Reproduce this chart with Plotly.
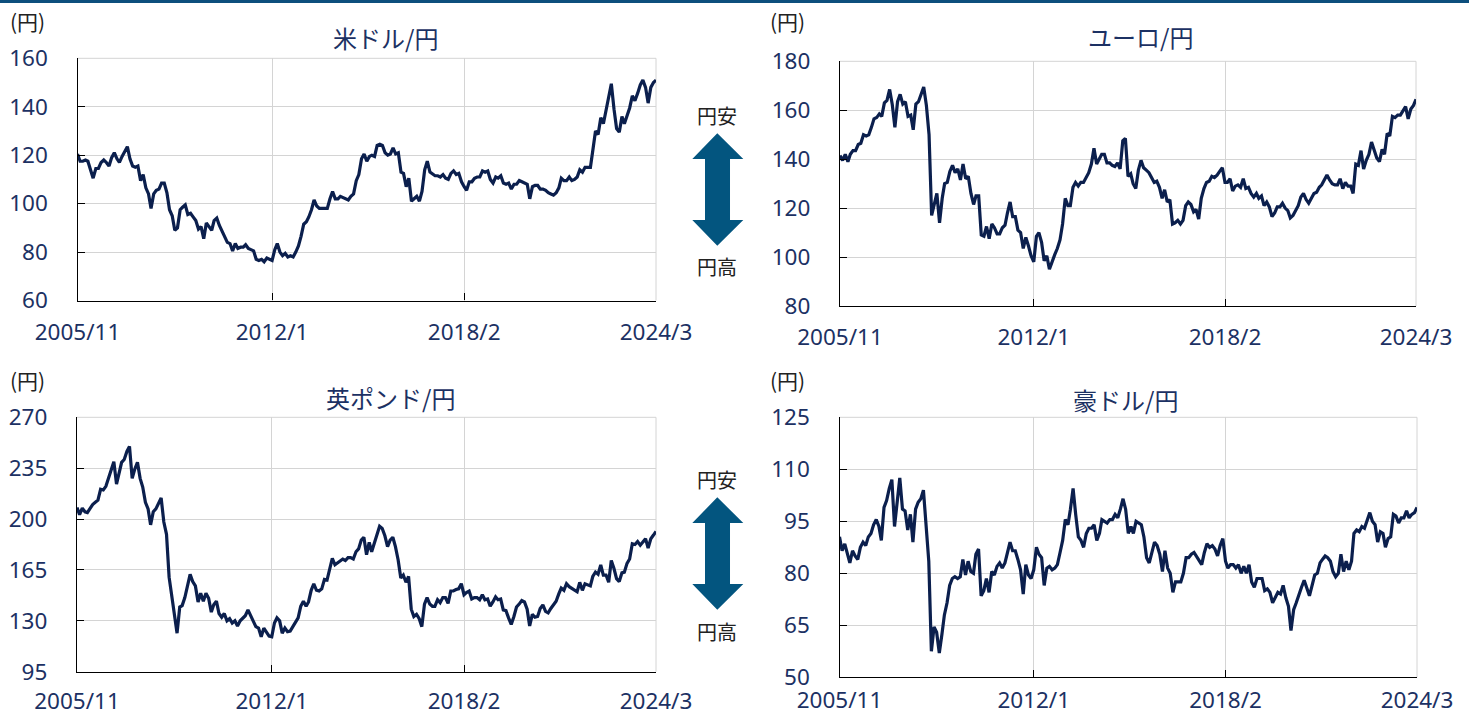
import plotly.graph_objects as go
import pandas as pd

# ---------------- data (monthly readings, 2005/11 - 2024/3) ----------------
usd_jpy = [
    120.5, 117.5,
    117.5, 118.0, 117.5, 114.0, 110.5, 114.5, 114.5, 117.0, 118.0, 117.0, 115.5, 119.0,
    121.0, 118.5, 117.0, 119.5, 121.5, 123.5, 118.5, 115.5, 115.0, 115.5, 109.5, 112.0,
    106.5, 104.0, 98.0, 104.0, 105.5, 106.0, 108.5, 108.5, 104.5, 97.5, 95.0, 89.0,
    90.0, 97.5, 98.5, 99.5, 95.5, 96.0, 94.5, 93.0, 89.5, 90.5, 85.5, 92.0,
    90.5, 89.0, 93.0, 94.0, 91.0, 88.5, 86.5, 84.0, 83.5, 80.5, 83.5, 81.5,
    82.0, 82.0, 83.0, 81.5, 81.0, 80.5, 77.0, 76.5, 77.0, 76.0, 77.5, 77.0,
    76.5, 81.0, 83.5, 80.0, 78.5, 79.5, 78.0, 78.5, 78.0, 80.0, 82.5, 86.5,
    91.5, 92.5, 94.5, 97.5, 101.5, 99.0, 98.0, 98.0, 98.0, 98.0, 102.0, 105.0,
    102.0, 102.0, 103.0, 102.5, 102.0, 101.5, 103.0, 104.0, 109.5, 112.0, 118.5, 120.5,
    117.5, 119.5, 120.0, 119.5, 124.0, 124.5, 124.0, 121.0, 120.0, 120.5, 123.0, 120.5,
    121.0, 113.0, 112.5, 107.0, 110.5, 101.0, 102.0, 103.0, 101.0, 105.0, 114.0, 117.5,
    113.0, 112.0, 111.5, 111.5, 111.0, 112.0, 110.5, 110.0, 112.5, 113.5, 112.0, 112.5,
    109.0, 107.0, 105.5, 109.0, 109.0, 110.5, 111.0, 111.0, 113.5, 113.0, 113.5, 110.0,
    108.5, 111.0, 110.5, 111.5, 108.5, 108.0, 108.5, 106.0, 108.0, 108.0, 109.5, 109.0,
    108.5, 108.0, 102.0, 107.0, 107.5, 107.5, 106.0, 106.0, 105.5, 104.5, 104.0, 103.5,
    104.5, 106.5, 110.5, 109.5, 109.5, 111.0, 109.5, 110.0, 111.0, 114.0, 113.0, 115.0,
    115.0, 115.0, 122.0, 130.0, 128.5, 135.5, 133.0, 139.0, 144.5, 149.5, 139.0, 131.0,
    129.5, 136.0, 133.0, 136.0, 139.5, 144.5, 142.5, 145.5, 149.0, 151.0, 148.0, 141.5,
    148.0, 150.0, 151.0,
]

eur_jpy = [
    141.5, 139.5,
    142.0, 139.0, 142.0, 143.5, 143.5, 146.0, 146.5, 150.0, 149.5, 150.0, 153.0, 156.5,
    157.0, 158.5, 157.5, 163.0, 164.0, 168.5, 162.5, 153.0, 163.5, 166.5, 162.5, 163.5,
    157.5, 158.0, 152.0, 162.5, 163.5, 167.0, 169.5, 162.0, 150.0, 117.0, 122.0, 126.0,
    114.0, 124.0, 130.0, 130.5, 135.0, 137.5, 134.5, 136.0, 131.5, 138.0, 132.0, 133.0,
    126.0, 121.5, 125.0, 125.0, 109.0, 108.5, 112.5, 107.5, 113.5, 112.0, 109.5, 109.5,
    112.0, 113.0, 118.0, 122.5, 116.5, 116.5, 111.0, 110.0, 103.5, 108.0, 104.5, 100.5,
    98.0, 108.5, 110.0, 106.0, 98.5, 100.5, 95.0, 98.5, 101.0, 103.5, 107.0, 113.5,
    124.0, 121.0, 121.0, 128.5, 130.5, 129.0, 130.5, 130.5, 132.5, 134.5, 138.0, 144.5,
    138.0, 140.5, 142.0, 142.0, 138.5, 138.5, 137.5, 137.0, 138.5, 136.0, 147.5, 148.5,
    133.0, 134.0, 130.0, 128.0, 135.5, 139.5, 136.5, 135.5, 134.5, 132.5, 130.5, 131.0,
    128.5, 124.0, 127.5, 122.5, 123.5, 113.5, 114.0, 115.0, 113.5, 115.0, 121.0, 122.5,
    121.5, 118.5, 119.5, 115.5, 124.0, 128.0, 130.5, 131.0, 133.0, 132.5, 133.5, 135.0,
    136.5, 130.5, 130.5, 132.0, 127.0, 129.0, 129.5, 128.5, 132.0, 128.0, 128.5, 126.0,
    124.5, 126.0, 124.0, 125.0, 121.0, 122.5, 120.5, 116.5, 118.0, 120.5, 120.5, 122.0,
    120.0, 119.0, 116.0, 117.0, 119.0, 121.0, 124.5, 126.0, 123.5, 122.0, 124.0, 126.0,
    126.5, 128.5, 129.5, 131.5, 133.5, 131.5, 130.0, 129.5, 129.5, 132.0, 128.0, 130.5,
    129.0, 129.0, 126.0, 138.0, 137.5, 143.5, 136.0, 139.5, 142.0, 147.0, 144.0, 140.5,
    139.0, 144.0, 142.0, 150.5, 149.5, 157.5, 157.0, 158.0, 158.0, 159.5, 161.5, 156.5,
    160.5, 162.0, 164.5,
]

gbp_jpy = [
    208.0, 203.0,
    207.5, 205.0, 204.5, 207.5, 210.0, 211.5, 213.0, 220.5, 220.0, 222.5, 228.5, 233.0,
    239.5, 224.0, 232.0, 239.0, 241.0, 246.5, 250.0, 228.0, 234.5, 239.0, 228.0, 222.0,
    211.5, 207.0, 196.0, 205.0, 207.0, 211.5, 214.5, 198.0, 189.5, 160.0, 147.0, 131.5,
    121.5, 139.5, 140.5, 146.0, 154.5, 162.0, 157.0, 154.0, 143.0, 149.0, 143.5, 149.0,
    145.5, 136.0, 141.0, 143.5, 135.0, 132.5, 135.0, 130.0, 131.5, 128.5, 130.0, 126.5,
    130.0, 132.0, 133.5, 137.5, 133.5, 129.5, 126.0, 125.0, 119.0, 125.0, 122.0, 119.5,
    119.0, 128.5, 132.0, 130.0, 121.5, 125.0, 122.5, 123.0, 126.0, 128.5, 132.0, 140.0,
    143.5, 140.0, 143.0, 151.0, 155.5, 151.0, 150.5, 152.0, 158.5, 158.0, 167.0, 173.0,
    168.5, 170.0, 171.5, 172.5, 171.5, 173.5, 173.5, 172.5, 177.5, 179.5, 185.5, 187.5,
    175.5, 184.0, 177.5, 183.0, 189.5, 195.0, 193.5, 188.5, 181.0, 185.5, 187.5, 181.0,
    172.0, 159.5, 161.5, 156.5, 160.5, 138.0, 133.0, 134.5, 131.5, 126.0, 141.5, 146.0,
    141.5, 140.0, 140.0, 144.5, 142.5, 146.0, 146.0, 142.0, 150.5, 150.5, 151.5, 152.0,
    155.5, 148.0, 149.5, 150.5, 145.0, 146.0, 146.0, 144.5, 148.0, 144.5, 145.0, 140.0,
    143.0, 146.5, 144.5, 145.0, 137.5, 137.0, 132.0, 127.5, 133.0, 139.5, 141.5, 144.0,
    143.0, 138.0, 126.5, 134.5, 132.5, 133.0, 138.5, 141.0, 136.5, 135.5, 138.5, 141.0,
    143.5, 148.5, 152.5, 151.0, 155.5, 153.5, 152.5, 151.0, 150.0, 156.5, 151.0, 155.5,
    154.5, 154.0, 160.5, 163.5, 162.0, 168.5, 161.5, 161.5, 156.5, 171.5, 166.0, 159.0,
    157.0, 163.0, 163.5, 169.5, 172.5, 183.0, 182.5, 184.5, 182.0, 184.0, 186.5, 180.0,
    186.5, 189.0, 191.5,
]

aud_jpy = [
    90.5, 86.5,
    88.5, 86.0, 83.0, 86.5, 85.0, 84.0, 87.5, 89.0, 88.0, 90.5, 91.5, 94.0,
    95.5, 93.5, 89.5, 99.0, 101.0, 104.5, 107.0, 93.5, 101.0, 107.5, 98.5, 98.0,
    92.5, 97.0, 89.0, 98.5, 100.5, 101.5, 104.0, 94.0, 83.5, 57.5, 64.5, 63.0,
    57.0, 62.5, 68.0, 71.5, 76.5, 78.5, 79.0, 78.5, 79.0, 84.0, 79.5, 83.5,
    80.5, 80.0, 85.5, 87.0, 73.5, 75.0, 78.5, 74.5, 80.5, 79.5, 82.0, 83.0,
    81.5, 83.0, 85.5, 89.0, 86.5, 86.5, 84.0, 81.0, 74.0, 82.5, 79.5, 78.5,
    81.0, 87.5, 85.5, 84.5, 76.5, 81.5, 82.0, 81.0, 81.5, 82.5, 86.0, 89.5,
    95.5, 94.0, 98.5, 104.5, 97.0, 90.5, 89.5, 87.5, 91.5, 93.0, 93.0, 94.0,
    89.5, 91.5, 95.5, 95.0, 94.5, 95.5, 95.5, 97.0, 96.0, 98.5, 101.5, 98.5,
    91.5, 93.5, 91.5, 95.0, 94.5, 94.0, 90.5, 84.5, 83.0, 86.0, 89.0, 88.0,
    85.5, 80.5, 86.5, 81.5, 80.0, 74.5, 77.5, 77.5, 77.5, 80.0, 84.5, 84.5,
    85.5, 86.0, 85.0, 83.5, 82.5, 86.0, 88.5, 87.5, 88.0, 87.0, 85.0, 88.0,
    90.0, 83.5, 81.5, 82.5, 82.5, 81.5, 82.5, 80.0, 82.0, 80.0, 82.5, 77.5,
    76.0, 78.5, 78.5, 78.5, 75.0, 75.5, 74.5, 71.5, 73.0, 74.5, 74.0, 76.5,
    73.0, 70.5, 63.5, 69.5, 71.5, 74.0, 76.0, 78.0, 75.5, 73.5, 76.5, 79.5,
    80.0, 83.0, 84.0, 85.0, 84.5, 83.5, 80.5, 79.0, 80.0, 85.5, 80.5, 83.5,
    81.0, 83.5, 91.5, 92.5, 92.0, 93.5, 93.0, 95.5, 97.5, 95.0, 94.0, 89.0,
    92.0, 91.5, 87.5, 90.0, 90.5, 97.0, 96.5, 94.5, 96.0, 96.0, 98.0, 96.0,
    97.0, 97.5, 99.0,
]

titles = ["米ドル/円", "ユーロ/円", "英ポンド/円", "豪ドル/円"]
x_tick_dates = ["2005-11-01", "2012-01-01", "2018-02-01", "2024-03-01"]
x_tick_labels = ["2005/11", "2012/1", "2018/2", "2024/3"]
y_ticks_usd = [60, 80, 100, 120, 140, 160]
y_ticks_eur = [80, 100, 120, 140, 160, 180]
y_ticks_gbp = [95, 130, 165, 200, 235, 270]
y_ticks_aud = [50, 65, 80, 95, 110, 125]

# ---------------- layout helpers ----------------
W, H = 1469, 718
def fx(x): return x / W
def fy(y): return 1 - y / H

NAVY = "#1c3163"
LINE = "#0b1f4d"
GRID = "#d4d4d4"
ARROW = "#03557f"
TICKFONT = dict(family="Noto Sans", size=22.5, color=NAVY)
JPFONT = "Noto Sans CJK JP"

series = [usd_jpy, eur_jpy, gbp_jpy, aud_jpy]
yticks = [y_ticks_usd, y_ticks_eur, y_ticks_gbp, y_ticks_aud]
# pixel boxes: left, right, top, bottom
boxes = [(77.5, 656, 58.3, 300.5), (840, 1416, 61.3, 306), (77, 656, 417.3, 671.7), (839.5, 1417, 417.3, 677.3)]
x_standoffs = [11, 11, 9, 3]
title_pos = [(385, 37.5), (1140, 36), (390, 397), (1125, 399)]
unit_pos = [(27.5, 21), (788, 21), (27.5, 380), (788, 380)]

fig = go.Figure()
shapes = []
annotations = []

for i, (vals, yt, box) in enumerate(zip(series, yticks, boxes)):
    n = i + 1
    dates = pd.date_range("2005-11-01", periods=len(vals), freq="MS")
    xa = "x" if n == 1 else f"x{n}"
    ya = "y" if n == 1 else f"y{n}"
    fig.add_trace(go.Scatter(x=dates, y=vals, mode="lines", xaxis=xa, yaxis=ya,
                             line=dict(color=LINE, width=3.2), hoverinfo="skip",
                             showlegend=False))
    l, r, t, b = box
    xkey = "xaxis" if n == 1 else f"xaxis{n}"
    ykey = "yaxis" if n == 1 else f"yaxis{n}"
    fig.update_layout({
        xkey: dict(domain=[fx(l), fx(r)], anchor=ya, type="date", automargin=False,
                   range=[x_tick_dates[0], x_tick_dates[-1]],
                   tickmode="array", tickvals=x_tick_dates, ticktext=x_tick_labels,
                   ticks="inside", ticklen=7, tickcolor="#000", tickwidth=1,
                   showline=True, linecolor="#000", linewidth=1.3,
                   showgrid=True, gridcolor=GRID, gridwidth=1, zeroline=False,
                   tickfont=TICKFONT, ticklabelstandoff=x_standoffs[i], fixedrange=True),
        ykey: dict(domain=[fy(b), fy(t)], anchor=xa, automargin=False,
                   range=[yt[0], yt[-1]], tickmode="array", tickvals=yt,
                   ticks="inside", ticklen=7, tickcolor="#000", tickwidth=1,
                   showline=True, linecolor="#000", linewidth=1.3,
                   showgrid=True, gridcolor=GRID, gridwidth=1, zeroline=False,
                   tickfont=TICKFONT, ticklabelstandoff=24, fixedrange=True),
    })
    # top and right light borders
    shapes.append(dict(type="line", xref="paper", yref="paper", x0=fx(l), x1=fx(r), y0=fy(t), y1=fy(t),
                       line=dict(color=GRID, width=1), layer="below"))
    shapes.append(dict(type="line", xref="paper", yref="paper", x0=fx(r), x1=fx(r), y0=fy(t), y1=fy(b),
                       line=dict(color=GRID, width=1), layer="below"))
    tx, ty = title_pos[i]
    annotations.append(dict(text=titles[i], x=fx(tx), y=fy(ty), xref="paper", yref="paper",
                            xanchor="center", yanchor="middle", showarrow=False,
                            font=dict(family=JPFONT, size=24, color=NAVY)))
    ux, uy = unit_pos[i]
    annotations.append(dict(text="(円)", x=fx(ux), y=fy(uy), xref="paper", yref="paper",
                            xanchor="center", yanchor="middle", showarrow=False,
                            font=dict(family=JPFONT, size=21, color="#222")))

# top blue strip
shapes.append(dict(type="rect", xref="paper", yref="paper", x0=0, x1=1, y0=fy(3), y1=1,
                   fillcolor="#0d4f7d", line=dict(width=0)))

# double arrows with labels
for dy in (0, 364):
    pts = [(717.3, 133.3), (743.3, 159), (730, 159), (730, 220), (743.3, 220), (717.3, 245.7),
           (692.3, 220), (705, 220), (705, 159), (692.3, 159)]
    path = "M " + " L ".join(f"{fx(x):.5f},{fy(y + dy):.5f}" for x, y in pts) + " Z"
    shapes.append(dict(type="path", xref="paper", yref="paper", path=path,
                       fillcolor=ARROW, line=dict(width=0)))
    annotations.append(dict(text="円安", x=fx(717), y=fy(115 + dy), xref="paper", yref="paper",
                            xanchor="center", yanchor="middle", showarrow=False,
                            font=dict(family=JPFONT, size=20, color="#222")))
    annotations.append(dict(text="円高", x=fx(717), y=fy(267 + dy), xref="paper", yref="paper",
                            xanchor="center", yanchor="middle", showarrow=False,
                            font=dict(family=JPFONT, size=20, color="#222")))

fig.update_layout(width=W, height=H, margin=dict(l=0, r=0, t=0, b=0, autoexpand=False),
                  paper_bgcolor="white", plot_bgcolor="white",
                  shapes=shapes, annotations=annotations, showlegend=False)

fig.write_html("out.html", config={"displayModeBar": False})
